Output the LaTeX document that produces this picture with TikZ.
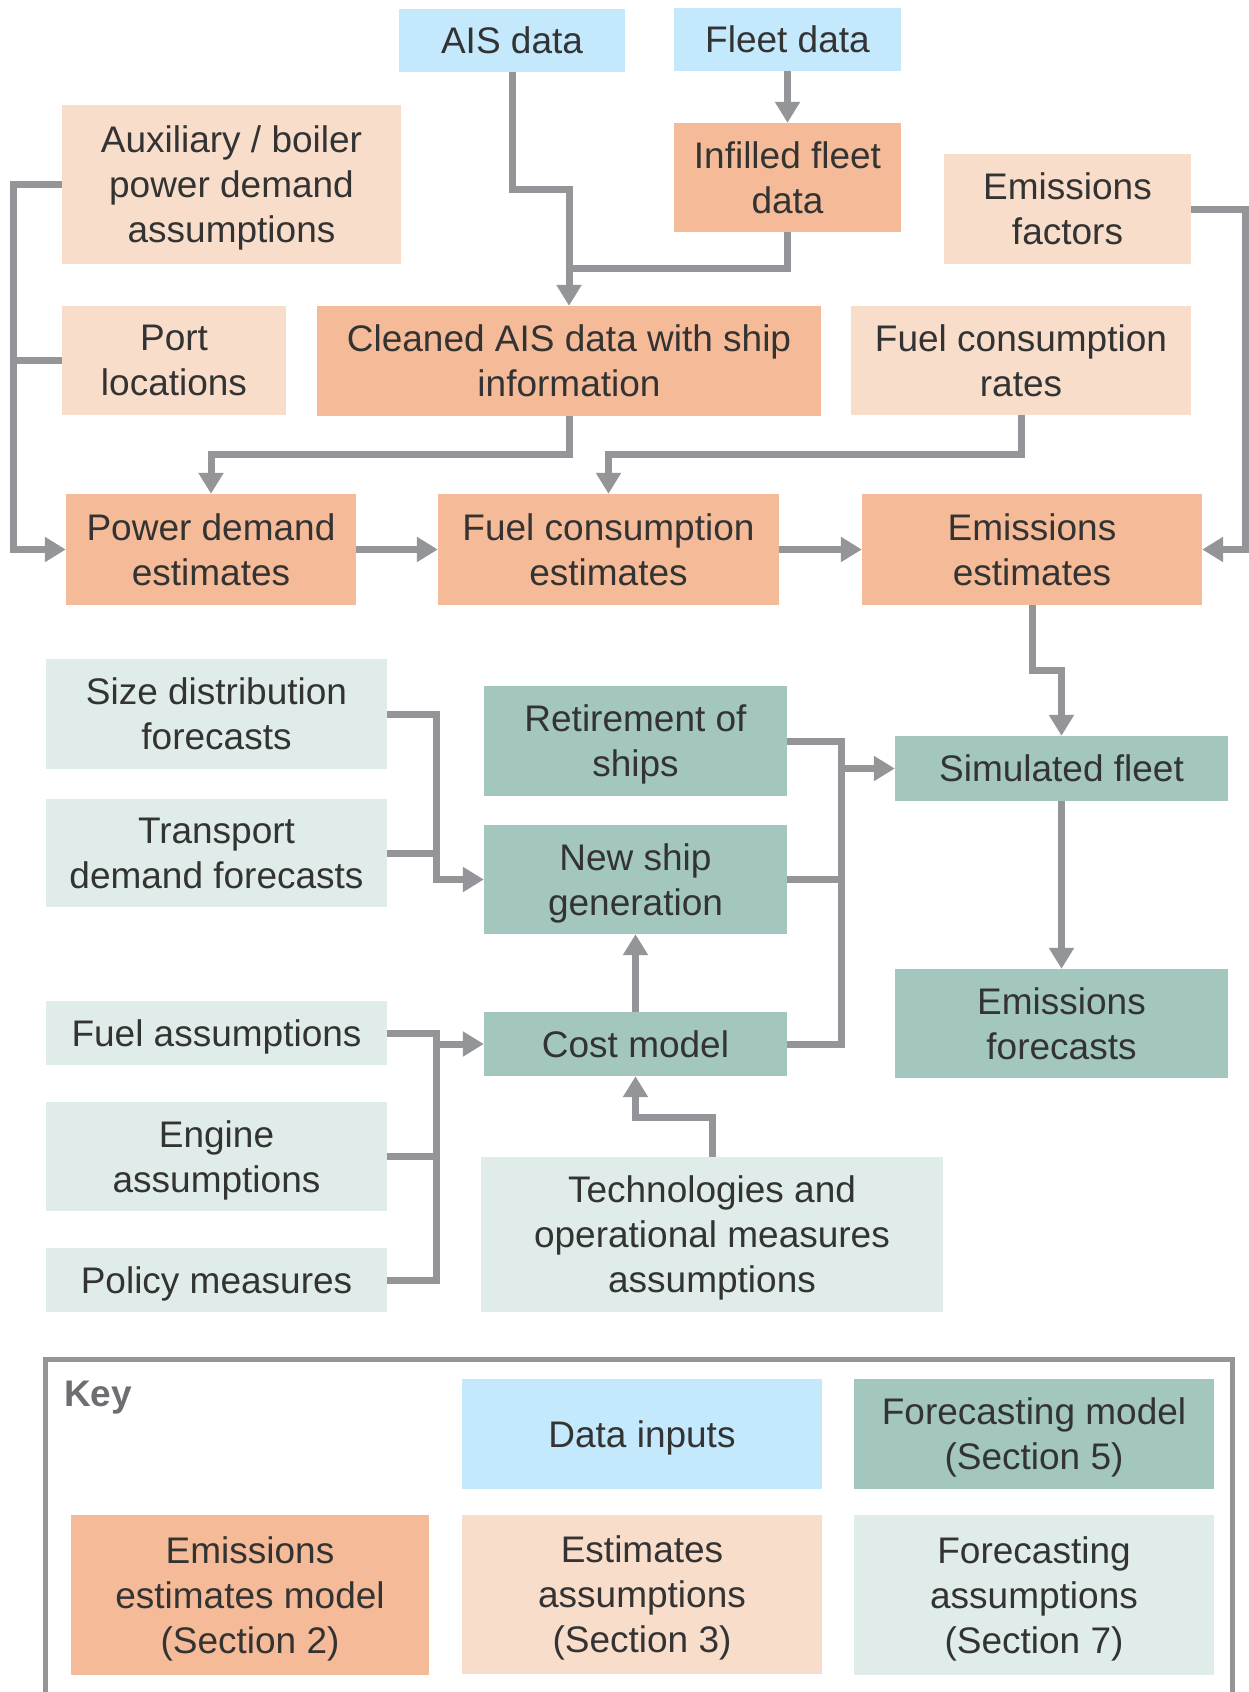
\documentclass[tikz,border=0pt]{standalone}
\usepackage{fontspec}
\setmainfont{Liberation Sans}
\usetikzlibrary{arrows.meta,calc}
\definecolor{cdata}{HTML}{C4E8FC}
\definecolor{cest}{HTML}{F5BB98}
\definecolor{cestas}{HTML}{F8DDCA}
\definecolor{cfm}{HTML}{A3C7BE}
\definecolor{cfa}{HTML}{E0ECE9}
\definecolor{cline}{HTML}{939598}
\definecolor{ctext}{HTML}{333333}
\definecolor{ckey}{HTML}{6D6E71}
\tikzset{
  box/.style={draw=none, inner sep=0pt, align=center, text=ctext, text depth=0pt,
    font=\fontsize{37}{45}\selectfont},
  dat/.style={box, fill=cdata},
  est/.style={box, fill=cest},
  estas/.style={box, fill=cestas},
  fmod/.style={box, fill=cfm},
  fass/.style={box, fill=cfa},
  conn/.style={draw=cline, line width=7pt, line join=miter, line cap=butt},
  arr/.style={conn, -{Triangle[width=24pt,length=21pt]}},
}
\begin{document}
\begin{tikzpicture}[x=1pt,y=-1pt]
\useasboundingbox[fill=white] (0,0) rectangle (1248,1692);
% boxes
\node[dat, minimum width=226, minimum height=63] (ais) at (512,40.5) {AIS data};
\node[dat, minimum width=227, minimum height=63] (fleet) at (787.5,39.5) {Fleet data};
\node[est, minimum width=227, minimum height=109] (infill) at (787.5,177.5) {Infilled fleet\\data};
\node[estas, minimum width=247, minimum height=110] (ef) at (1067.5,209) {Emissions\\factors};
\node[estas, minimum width=339, minimum height=159] (aux) at (231.5,184.5) {Auxiliary / boiler\\power demand\\assumptions};
\node[estas, minimum width=224, minimum height=109] (port) at (174,360.5) {Port\\locations};
\node[est, minimum width=504, minimum height=110] (cleaned) at (569,361) {Cleaned AIS data with ship\\information};
\node[estas, minimum width=340, minimum height=109] (fcr) at (1021,360.5) {Fuel consumption\\rates};
\node[est, minimum width=290, minimum height=111] (pde) at (211,549.5) {Power demand\\estimates};
\node[est, minimum width=341, minimum height=111] (fce) at (608.5,549.5) {Fuel consumption\\estimates};
\node[est, minimum width=340, minimum height=111] (ee) at (1032,549.5) {Emissions\\estimates};
\node[fass, minimum width=341, minimum height=110] (sdf) at (216.5,714) {Size distribution\\forecasts};
\node[fass, minimum width=341, minimum height=108] (tdf) at (216.5,853) {Transport\\demand forecasts};
\node[fmod, minimum width=303, minimum height=110] (ros) at (635.5,741) {Retirement of\\ships};
\node[fmod, minimum width=303, minimum height=109] (nsg) at (635.5,879.5) {New ship\\generation};
\node[fmod, minimum width=333, minimum height=65] (sf) at (1061.5,768.5) {Simulated fleet};
\node[fmod, minimum width=333, minimum height=109] (efc) at (1061.5,1023.5) {Emissions\\forecasts};
\node[fass, minimum width=341, minimum height=64] (fa) at (216.5,1033) {Fuel assumptions};
\node[fmod, minimum width=303, minimum height=64] (cost) at (635.5,1044) {Cost model};
\node[fass, minimum width=341, minimum height=109] (eng) at (216.5,1156.5) {Engine\\assumptions};
\node[fass, minimum width=341, minimum height=64] (pol) at (216.5,1280) {Policy measures};
\node[fass, minimum width=462, minimum height=155] (tech) at (712,1234.5) {Technologies and\\operational measures\\assumptions};
% key
\draw[draw=cline, line width=5pt, line join=miter] (45,1700) -- (45,1359) -- (1232,1359) -- (1232,1700);
\node[anchor=west, inner sep=0pt, text=ckey, text depth=0pt, font=\fontsize{37}{45}\selectfont\bfseries] (keylbl) at (64,1394) {Key};
\node[dat, minimum width=360, minimum height=110] (kdata) at (642,1434) {Data inputs};
\node[fmod, minimum width=360, minimum height=110] (kfm) at (1034,1434) {Forecasting model\\(Section 5)};
\node[est, minimum width=358, minimum height=160] (kem) at (250,1595) {Emissions\\estimates model\\(Section 2)};
\node[estas, minimum width=360, minimum height=159] (kea) at (642,1594.5) {Estimates\\assumptions\\(Section 3)};
\node[fass, minimum width=360, minimum height=160] (kfa) at (1034,1595) {Forecasting\\assumptions\\(Section 7)};
% helper coordinates
\coordinate (jA) at (569,189);
\coordinate (jB) at (569,268);
\coordinate (busL) at (13,0);
\coordinate (h1) at (0,454);
\coordinate (busR) at (1245,0);
\coordinate (h2) at (0,670);
\coordinate (busM) at (436,0);
\coordinate (busN) at (841,0);
\coordinate (h3) at (0,1117);
% connectors
\draw[arr] (fleet.south) -- (infill.north);
\draw[arr] (ais.south) |- (jA) -- (cleaned.north);
\draw[conn] (infill.south) |- (jB);
\draw[arr] (aux.west) -- (aux.west -| busL) -- (pde.west -| busL) -- (pde.west);
\draw[conn] (port.west) -- (port.west -| busL);
\draw[arr] (cleaned.south) -- (cleaned.south |- h1) -| (pde.north);
\draw[arr] (fcr.south) -- (fcr.south |- h1) -| (fce.north);
\draw[arr] (ef.east) -- (ef.east -| busR) -- (ee.east -| busR) -- (ee.east);
\draw[arr] (pde.east) -- (fce.west);
\draw[arr] (fce.east) -- (ee.west);
\draw[arr] (ee.south) -- (ee.south |- h2) -| (sf.north);
\draw[arr] (sf.south) -- (efc.north);
\draw[conn] (sdf.east) -- (sdf.east -| busM) -- (nsg.west -| busM);
\draw[arr] ($(nsg.west -| busM)+(-3.5,0)$) -- (nsg.west);
\draw[conn] (tdf.east) -- (tdf.east -| busM);
\draw[conn] (fa.east) -- (fa.east -| busM) -- (pol.east -| busM) -- (pol.east);
\draw[conn] (eng.east) -- (eng.east -| busM);
\draw[arr] (cost.west -| busM) -- (cost.west);
\draw[conn] (ros.east) -- (ros.east -| busN) -- (cost.east -| busN) -- (cost.east);
\draw[conn] (nsg.east) -- (nsg.east -| busN);
\draw[arr] (sf.west -| busN) -- (sf.west);
\draw[arr] (cost.north) -- (nsg.south);
\draw[arr] (tech.north) -- (tech.north |- h3) -| (cost.south);
\end{tikzpicture}
\end{document}
